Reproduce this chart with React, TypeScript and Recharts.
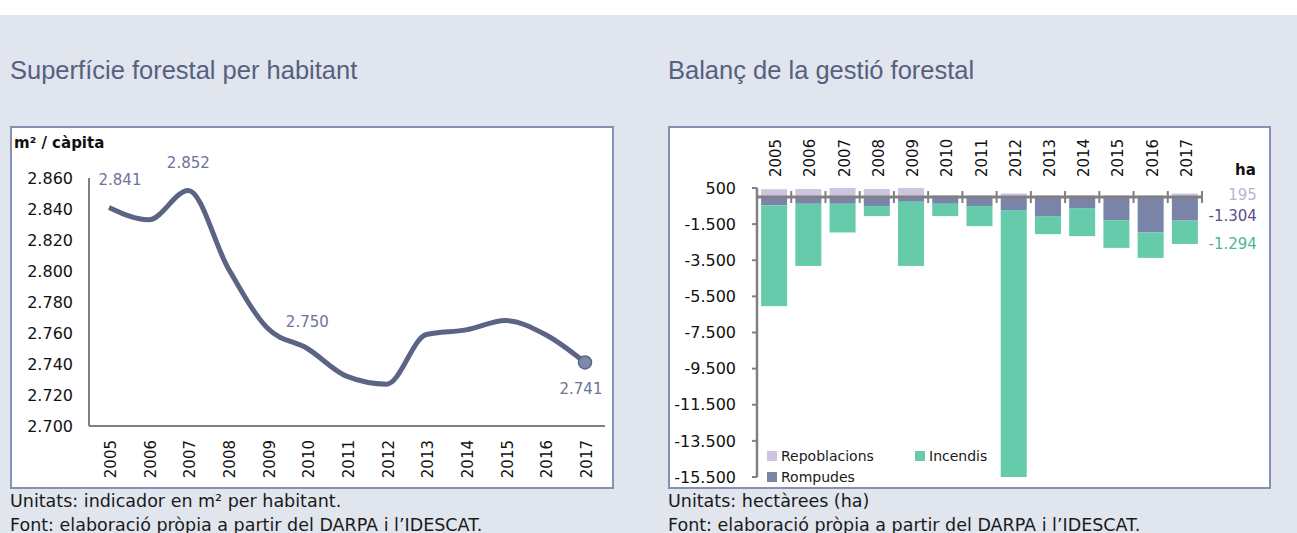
import React from 'react';
import { LineChart, Line, XAxis, YAxis, BarChart, Bar, ReferenceLine } from 'recharts';

// ---------- data ----------
const years = ['2005', '2006', '2007', '2008', '2009', '2010', '2011', '2012', '2013', '2014', '2015', '2016', '2017'];

// Superfície forestal per habitant (m² / càpita)
const superficie = [2841, 2833, 2852, 2802, 2763, 2750, 2732, 2727, 2759, 2762, 2768, 2759, 2741];
const superficieTicks = [2700, 2720, 2740, 2760, 2780, 2800, 2820, 2840, 2860];
const labelledYears = ['2005', '2007', '2010', '2017'];

// Balanç de la gestió forestal (ha)
const repoblacions = [430, 440, 580, 440, 560, 100, 100, 200, 90, 100, 90, 90, 195];
const rompudes = [-465, -372, -372, -500, -261, -372, -500, -722, -1055, -611, -1280, -1963, -1304];
const incendis = [-5575, -3443, -1591, -555, -3554, -683, -1110, -14828, -1000, -1554, -1535, -1407, -1294];
const balancTicks = [500, -1500, -3500, -5500, -7500, -9500, -11500, -13500, -15500];

const seriesNames = ['Repoblacions', 'Rompudes', 'Incendis'];
const seriesColors = ['#cdc4e0', '#7a84a9', '#66cbaa'];
const endLabelColors = ['#bdb3d6', '#5d4d8c', '#4cb88c'];

const lineData = years.map((y, i) => ({ year: y, value: superficie[i] }));
const barData = years.map((y, i) => ({
  year: y,
  repoblacions: repoblacions[i],
  rompudes: rompudes[i],
  incendis: incendis[i],
}));

const fmt = (v: number) => {
  const s = Math.abs(Math.round(v)).toString().replace(/\B(?=(\d{3})+(?!\d))/g, '.');
  return (v < 0 ? '-' : '') + s;
};

const FONT = '"DejaVu Sans", Verdana, sans-serif';
const BG = '#e1e5ee';
const BORDER = '#8590b6';
const AXIS = '#808080';

// ---------- custom pieces ----------
const BottomTick = (props: any) => {
  const { x, y, payload } = props;
  return (
    <text x={x} y={y} dy={2} transform={`rotate(-90 ${x} ${y})`} textAnchor="end" dominantBaseline="central"
      fontFamily={FONT} fontSize={15} fill="#111">{payload.value}</text>
  );
};

const TopTick = (props: any) => {
  const { x, y, payload } = props;
  return (
    <text x={x} y={y} dy={2} transform={`rotate(-90 ${x} ${y})`} textAnchor="start" dominantBaseline="central"
      fontFamily={FONT} fontSize={15} fill="#111">{payload.value}</text>
  );
};

const LineDot = (props: any) => {
  const { cx, cy, index, payload } = props;
  const last = index === years.length - 1;
  const labelled = labelledYears.includes(payload.year);
  const dx = index === 0 ? 11 : last ? -4 : 0;
  const dy = last ? 27 : -27;
  return (
    <g key={`d${index}`}>
      {last && <circle cx={cx} cy={cy} r={6.5} fill="#7d88ab" stroke="#5b6485" strokeWidth={1.5} />}
      {labelled && (
        <text x={cx + dx} y={cy + dy} textAnchor="middle" dominantBaseline="central"
          fontFamily={FONT} fontSize={15} fill="#6b7499">{fmt(payload.value)}</text>
      )}
    </g>
  );
};

const makeBarShape = (seriesIdx: number) => (props: any) => {
  const { x, y, width, height, index, value } = props;
  const top = Math.min(y, y + height);
  const h = Math.abs(height);
  const last = index === years.length - 1;
  const v = Array.isArray(value) ? value[1] - value[0] : value;
  let ly = top + h / 2;
  if (seriesIdx === 1) ly = top + h - 5;
  if (seriesIdx === 2) ly = top + h;
  return (
    <g>
      <rect x={x} y={top} width={width} height={h} fill={seriesColors[seriesIdx]} />
      {last && (
        <text x={x + width + 59} y={ly} textAnchor="end" dominantBaseline="central"
          fontFamily={FONT} fontSize={15} fill={endLabelColors[seriesIdx]}>{fmt(v)}</text>
      )}
    </g>
  );
};

const ZeroLine = (props: any) => {
  const { x1, y1, x2 } = props;
  const n = years.length;
  const step = (x2 - x1) / n;
  return (
    <g>
      <line x1={x1} y1={y1} x2={x2} y2={y1} stroke={AXIS} strokeWidth={3} />
      {Array.from({ length: n + 1 }, (_, i) => (
        <line key={i} x1={x1 + i * step} x2={x1 + i * step} y1={y1 - 6} y2={y1 + 6} stroke={AXIS} strokeWidth={2} />
      ))}
    </g>
  );
};

// ---------- app ----------
export default function App() {
  const captionStyle: React.CSSProperties = {
    position: 'absolute', fontFamily: FONT, fontSize: 17.5, lineHeight: '24px', color: '#1a1a1a', whiteSpace: 'nowrap',
  };
  const titleStyle: React.CSSProperties = {
    position: 'absolute', fontFamily: '"Liberation Sans", Arial, sans-serif', fontSize: 25.5, lineHeight: '30px',
    color: '#56607f', whiteSpace: 'nowrap',
  };
  const boxStyle: React.CSSProperties = {
    position: 'absolute', background: '#fff', border: `2px solid ${BORDER}`, boxSizing: 'border-box',
  };
  return (
    <div style={{ position: 'absolute', left: 0, top: 0, width: 1297, height: 533, background: BG, overflow: 'hidden' }}>
      <div style={{ position: 'absolute', left: 0, top: 0, width: 1297, height: 15, background: '#fff' }} />

      <div style={{ ...titleStyle, left: 10, top: 55 }}>Superfície forestal per habitant</div>
      <div style={{ ...titleStyle, left: 668, top: 55 }}>Balanç de la gestió forestal</div>

      {/* left panel */}
      <div style={{ ...boxStyle, left: 10, top: 126, width: 604, height: 363 }} />
      <div style={{ position: 'absolute', left: 10, top: 126 }}>
        <LineChart width={604} height={363} data={lineData} margin={{ top: 52, right: 9, bottom: 3, left: 0 }}>
          <XAxis dataKey="year" height={60} interval={0} tickLine={false} tickSize={0} tickMargin={14}
            padding={{ left: 20, right: 20 }}
            axisLine={{ stroke: AXIS, strokeWidth: 2 }} tick={<BottomTick />} />
          <YAxis width={79} domain={[2700, 2860]} ticks={superficieTicks} interval={0} tickFormatter={fmt}
            tickLine={false} tickSize={0} tickMargin={16} axisLine={{ stroke: AXIS, strokeWidth: 2 }}
            tick={{ fontFamily: FONT, fontSize: 16, fill: '#111' }} />
          <Line dataKey="value" type="monotone" stroke="#5b6485" strokeWidth={5} isAnimationActive={false}
            dot={LineDot} activeDot={false} />
        </LineChart>
      </div>
      <div style={{ position: 'absolute', left: 14, top: 134, fontFamily: FONT, fontWeight: 'bold', fontSize: 15, color: '#111' }}>
        m² / càpita
      </div>

      {/* right panel */}
      <div style={{ ...boxStyle, left: 668, top: 126, width: 603, height: 363 }} />
      <div style={{ position: 'absolute', left: 668, top: 126 }}>
        <BarChart width={603} height={363} data={barData} stackOffset="sign" barCategoryGap="12%"
          margin={{ top: 12, right: 69, bottom: 12, left: 0 }}>
          <XAxis dataKey="year" orientation="top" height={50} interval={0} axisLine={false} tickLine={false}
            tickSize={0} tickMargin={11} tick={<TopTick />} />
          <YAxis width={89} domain={[-15500, 500]} ticks={balancTicks} interval={0} tickFormatter={fmt}
            allowDataOverflow tickSize={5} tickMargin={16}
            axisLine={{ stroke: AXIS, strokeWidth: 2.5 }} tickLine={{ stroke: AXIS, strokeWidth: 2 }}
            tick={{ fontFamily: FONT, fontSize: 16, fill: '#111' }} />
          <Bar dataKey="repoblacions" stackId="a" fill={seriesColors[0]} isAnimationActive={false} shape={makeBarShape(0)} />
          <Bar dataKey="rompudes" stackId="a" fill={seriesColors[1]} isAnimationActive={false} shape={makeBarShape(1)} />
          <Bar dataKey="incendis" stackId="a" fill={seriesColors[2]} isAnimationActive={false} shape={makeBarShape(2)} />
          <ReferenceLine y={0} shape={ZeroLine} />
        </BarChart>
      </div>
      <div style={{ position: 'absolute', left: 1235, top: 161, fontFamily: FONT, fontWeight: 'bold', fontSize: 15, color: '#111' }}>
        ha
      </div>

      {/* legend */}
      {[
        { i: 0, left: 767, top: 447 },
        { i: 2, left: 915, top: 447 },
        { i: 1, left: 767, top: 468 },
      ].map(({ i, left, top }) => (
        <div key={i} style={{ position: 'absolute', left, top, height: 18, display: 'flex', alignItems: 'center',
          fontFamily: FONT, fontSize: 14, color: '#1a1a1a', whiteSpace: 'nowrap' }}>
          <span style={{ display: 'inline-block', width: 10, height: 10, background: seriesColors[i], marginRight: 4 }} />
          {seriesNames[i]}
        </div>
      ))}

      {/* captions */}
      <div style={{ ...captionStyle, left: 10, top: 489 }}>
        Unitats: indicador en m² per habitant.<br />Font: elaboració pròpia a partir del DARPA i l’IDESCAT.
      </div>
      <div style={{ ...captionStyle, left: 668, top: 489 }}>
        Unitats: hectàrees (ha)<br />Font: elaboració pròpia a partir del DARPA i l’IDESCAT.
      </div>
    </div>
  );
}
